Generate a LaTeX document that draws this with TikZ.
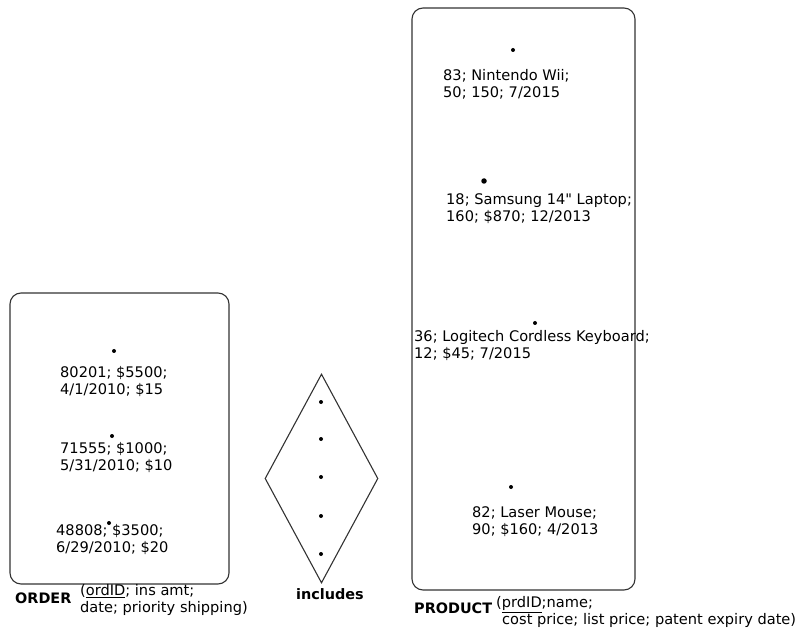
\documentclass[tikz,border=0pt]{standalone}
\usepackage{fontspec}
\setmainfont{DejaVu Sans}
\newfontfamily\plainquote{DejaVu Sans}
\usetikzlibrary{shapes.geometric, positioning}
\colorlet{Cline}{black!80}
\tikzset{
  entbox/.style={draw=Cline, rounded corners=11pt, line width=1.1pt, inner sep=0pt},
  relbox/.style={draw=Cline, diamond, line width=1.1pt, inner sep=0pt},
  inst/.style={circle, fill=black, inner sep=0pt, minimum size=4pt},
  val/.style={align=left, anchor=west, inner sep=0pt, font=\fontsize{14.6}{17}\selectfont},
  entname/.style={anchor=west, inner sep=0pt, font=\fontsize{14.4}{17}\selectfont\bfseries},
}

\begin{document}
\begin{tikzpicture}[x=1pt, y=-1pt]
\useasboundingbox (0,0) rectangle (798,628);

%% ORDER entity set
\node[entbox, minimum width=219pt, minimum height=291pt] (order) at (119.5,438.5) {};
\node[inst] (o1) at (114,351) {};
\node[inst] (o2) at (112,436) {};
\node[inst] (o3) at (109,523) {};
\node[val] (o1v) at (60,382) {80201; \$5500;\\4/1/2010; \$15};
\node[val] (o2v) at (60,458) {71555; \$1000;\\5/31/2010; \$10};
\node[val] (o3v) at (56,540) {48808; \$3500;\\6/29/2010; \$20};
\node[entname] (ordname) at (15,598) {ORDER};
\node[val] (ordattr) at (80,600) {(\underline{ordID}; ins amt;\\date; priority shipping)};

%% includes relationship
\node[relbox, minimum width=113pt, minimum height=209pt] (incl) at (321.5,478.5) {};
\foreach \i/\y in {1/402, 2/439, 3/477, 4/516, 5/554}
  \node[inst] (r\i) at (321,\y) {};
\node[font=\fontsize{14.4}{17}\selectfont\bfseries, inner sep=0pt] (inclname) at (330,594) {includes};

%% PRODUCT entity set
\node[entbox, minimum width=223pt, minimum height=582pt] (product) at (523.5,299) {};
\node[inst] (p1) at (513,50) {};
\node[inst, minimum size=5.5pt] (p2) at (484,181) {};
\node[inst] (p3) at (535,323) {};
\node[inst] (p4) at (511,487) {};
\node[val] (p1v) at (443,84) {83; Nintendo Wii;\\50; 150; 7/2015};
\node[val] (p2v) at (446,209) {18; Samsung 14{\plainquote"} Laptop;\\160; \$870; 12/2013};
\node[val] (p3v) at (414,346) {36; Logitech Cordless Keyboard;\\12; \$45; 7/2015};
\node[val] (p4v) at (472,522) {82; Laser Mouse;\\90; \$160; 4/2013};
\node[entname] (prdname) at (414,608) {PRODUCT};
\node[val] (prdattr) at (496,612) {(\underline{prdID};name;\\\hspace*{6pt}cost price; list price; patent expiry date)};

\end{tikzpicture}
\end{document}
